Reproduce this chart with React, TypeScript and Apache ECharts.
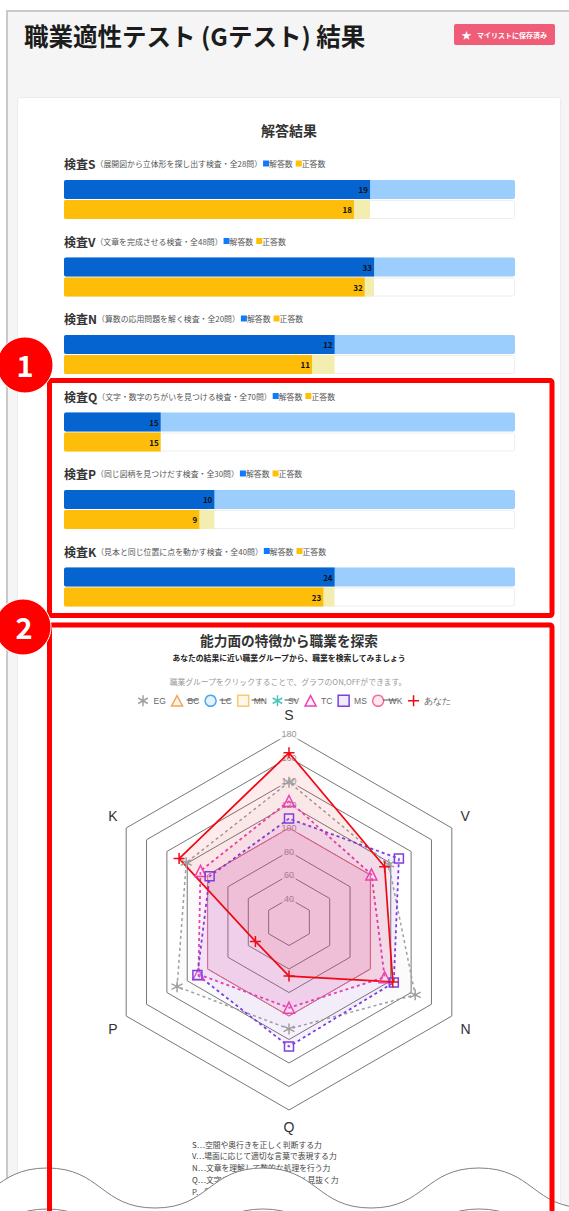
import React, { useEffect, useRef } from "react";
import * as echarts from "echarts";

const FONT = '"Noto Sans CJK JP", "Noto Sans", sans-serif';
const LATIN = '"Liberation Sans", Arial, sans-serif';

const testCodes = ["S", "V", "N", "Q", "P", "K"];
const testNotes = [
  "（展開図から立体形を探し出す検査・全28問）",
  "（文章を完成させる検査・全48問）",
  "（算数の応用問題を解く検査・全20問）",
  "（文字・数字のちがいを見つける検査・全70問）",
  "（同じ図柄を見つけだす検査・全30問）",
  "（見本と同じ位置に点を動かす検査・全40問）",
];
const totals = [28, 48, 20, 70, 30, 40];
const answered = [19, 33, 12, 15, 10, 24];
const correct = [18, 32, 11, 15, 9, 23];

// Values follow the order S, V, N, Q, P, K (clockwise from the top in the picture).
const radarAxes = ["S", "V", "N", "Q", "P", "K"];
const radarMin = 20;
const radarMax = 180;
const youValues = [164, 114, 122, 66, 53, 128];
const egValues = [139, 118, 144, 111, 130, 121];
const tcValues = [123, 101, 114, 93, 109, 107];
const msValues = [108, 128, 123, 126, 110, 98];
const baseValues = [100, 100, 100, 100, 100, 100];
const legendNames = ["EG", "BC", "LC", "MN", "SV", "TC", "MS", "WK", "あなた"];
const hiddenGroups = ["BC", "LC", "MN", "SV", "WK"];

const abilityNotes = [
  "S…空間や奥行きを正しく判断する力",
  "V…場面に応じて適切な言葉で表現する力",
  "N…文章を理解して数的な処理を行う力",
  "Q…文字や数字のちがいを正しく見抜く力",
  "P…図柄のちがいを素早く見抜く力",
  "K…手先を正確にコントロールする力",
];

// ECharts lays radar indicators out anti-clockwise
const radarOrder = [0, 5, 4, 3, 2, 1];
const ordered = <T,>(a: T[]) => radarOrder.map((i) => a[i]);

const STAR = "path://M0 -10L0 10M-8.66 -5L8.66 5M-8.66 5L8.66 -5";
const TRI = "path://M10 1L19.5 19L0.5 19Z";
const SQUARE = "path://M0 0H20V20H0Z";
const CIRCLE = "path://M10 0A10 10 0 1 1 9.99 0Z";
const PLUS = "path://M-10 0H10M0 -10V10";

const iconOf: Record<string, [string, string, string]> = {
  EG: [STAR, "#a0a0a0", "rgba(160,160,160,0.06)"],
  BC: [TRI, "#f2a65a", "rgba(242,166,90,0.15)"],
  LC: [CIRCLE, "#4aa8ea", "rgba(74,168,234,0.15)"],
  MN: [SQUARE, "#f9cb70", "rgba(249,203,112,0.15)"],
  SV: [STAR, "#4cc3ba", "rgba(76,195,186,0.2)"],
  TC: [TRI, "#ee3fb4", "rgba(238,63,180,0.08)"],
  MS: [SQUARE, "#7c3fe0", "rgba(124,63,224,0.1)"],
  WK: [CIRCLE, "#f2709a", "rgba(242,112,154,0.15)"],
  "あなた": [PLUS, "#f00a14", "rgba(240,10,20,0.12)"],
};

echarts.graphic.registerShape(
  "wave",
  echarts.graphic.extendPath(
    "M-61 40C-7 40 -7 0 47 0C101 0 101 40 155 40C209 40 209 0 263 0C317 0 317 40 371 40C425 40 425 0 479 0C533 0 533 40 587 40L640 40L640 120L-61 120Z",
    {}
  )
);

function buildOption() {
  const grids: any[] = [];
  const xAxes: any[] = [];
  const yAxes: any[] = [];
  const series: any[] = [];
  const graphics: any[] = [];
  const gridTops = testCodes.map((_, i) => 179.5 + i * 77.5);

  const text = (o: any) => ({ type: "text", z: 5, silent: true, ...o });

  graphics.push(
    { type: "rect", z: -10, shape: { x: 7, y: 11, width: 570, height: 1210 }, style: { fill: "#f5f5f5", stroke: "#c9c9c9", lineWidth: 2 } },
    { type: "rect", z: -9, shape: { x: 17.5, y: 97.5, width: 543, height: 1200, r: 2 }, style: { fill: "#ffffff", stroke: "#ececec", lineWidth: 1 } },
    text({ x: 24, y: 35, style: { text: "職業適性テスト (Gテスト) 結果", font: `700 24.5px ${FONT}`, fill: "#1c1c1c", verticalAlign: "middle" } }),
    { type: "rect", z: 4, shape: { x: 454, y: 24, width: 101, height: 21, r: 2 }, style: { fill: "#ef5d78" } },
    text({ x: 466.5, y: 34.5, style: { text: "★", font: `10px ${FONT}`, fill: "#fff", align: "center", verticalAlign: "middle" } }),
    text({ x: 477, y: 34.5, style: { text: "マイリストに保存済み", font: `700 7px ${FONT}`, fill: "#fff", verticalAlign: "middle" } }),
    text({ x: 289, y: 129.5, style: { text: "解答結果", font: `700 14px ${FONT}`, fill: "#333", align: "center", verticalAlign: "middle" } })
  );

  testCodes.forEach((code, i) => {
    grids.push({ left: 64, width: 451, top: gridTops[i], height: 40 });
    xAxes.push({ gridIndex: i, type: "value", min: 0, max: totals[i], show: false });
    yAxes.push({ gridIndex: i, type: "category", inverse: true, data: ["解答数", "正答数"], show: false });
    const common = { type: "bar", xAxisIndex: i, yAxisIndex: i, barWidth: 19, barGap: "-100%", silent: true };
    series.push({
      ...common,
      name: `検査${code}全問`,
      data: [
        { value: totals[i], itemStyle: { color: "#9bcdfd", borderRadius: 2 } },
        { value: totals[i], itemStyle: { color: "#ffffff", borderColor: "#eeeeee", borderWidth: 1, borderRadius: 2 } },
      ],
    });
    series.push({
      ...common,
      name: `検査${code}未正答`,
      data: [null, { value: answered[i], itemStyle: { color: "#f3eeb0" } }],
    });
    series.push({
      ...common,
      name: `検査${code}`,
      label: { show: true, position: "insideRight", distance: 2, color: "#111", fontFamily: FONT, fontWeight: 700, fontSize: 8 },
      data: [
        { value: answered[i], itemStyle: { color: "#0664d0", borderRadius: [2, 0, 0, 2] } },
        { value: correct[i], itemStyle: { color: "#fdbd08", borderRadius: [2, 0, 0, 2] } },
      ],
    });
    graphics.push(
      text({
        x: 64,
        y: gridTops[i] - 16,
        style: {
          text: `{h|検査${code}}{d|${testNotes[i]}}{s|}{b|}{l|解答数}{t|}{y|}{l|正答数}`,
          verticalAlign: "middle",
          rich: {
            h: { fontFamily: FONT, fontSize: 12, fontWeight: 700, fill: "#333" },
            d: { fontFamily: FONT, fontSize: 7.9, fill: "#555" },
            l: { fontFamily: FONT, fontSize: 7.9, fill: "#555" },
            s: { width: 1, height: 7 },
            t: { width: 3, height: 7 },
            b: { backgroundColor: "#0d7bff", width: 6, height: 6 },
            y: { backgroundColor: "#ffc107", width: 6, height: 6 },
          },
        },
      })
    );
  });

  graphics.push(
    text({ x: 289, y: 640, style: { text: "能力面の特徴から職業を探索", font: `700 13.7px ${FONT}`, fill: "#333", align: "center", verticalAlign: "middle" } }),
    text({ x: 289, y: 657, style: { text: "あなたの結果に近い職業グループから、職業を検索してみましょう", font: `700 7.8px ${FONT}`, fill: "#222", align: "center", verticalAlign: "middle" } }),
    text({ x: 288, y: 681, style: { text: "職業グループをクリックすることで、グラフのON,OFFができます。", font: `7.8px ${FONT}`, fill: "#999", align: "center", verticalAlign: "middle" } })
  );

  abilityNotes.forEach((t, i) => {
    graphics.push(
      text({ x: 192, y: 1144 + i * 11.9, z: 6, style: { text: t, font: `7.8px ${FONT}`, fill: "#444", verticalAlign: "middle" } })
    );
  });

  // strike-through over the switched-off legend groups
  const strikeSpan: Record<string, [number, number]> = { BC: [186.5, 12], LC: [219.5, 11], MN: [251.5, 13], SV: [284.5, 12], WK: [383, 14] };
  hiddenGroups.forEach((n) => {
    const [x, w] = strikeSpan[n];
    graphics.push({ type: "line", z: 20, silent: true, shape: { x1: x, y1: 700, x2: x + w, y2: 700 }, style: { stroke: "#555", lineWidth: 1 } });
  });

  graphics.push(
    { type: "wave", z: 40, x: 0, y: 1168, silent: true, style: { fill: "#ffffff", stroke: "#808080", lineWidth: 1 } },
    { type: "wave", z: 41, x: 0, y: 1209, silent: true, style: { fill: "#ffffff", stroke: "#808080", lineWidth: 1 } },
    { type: "rect", z: 50, silent: true, shape: { x: 49.5, y: 380.5, width: 502.5, height: 235, r: 2 }, style: { fill: "none", stroke: "#ff0000", lineWidth: 5 } },
    { type: "rect", z: 50, silent: true, shape: { x: 49.5, y: 625, width: 502.5, height: 700, r: 2 }, style: { fill: "none", stroke: "#ff0000", lineWidth: 5 } },
    { type: "circle", z: 51, silent: true, shape: { cx: 25, cy: 365, r: 28 }, style: { fill: "#ff0000", stroke: "#ffffff", lineWidth: 1 } },
    { type: "circle", z: 51, silent: true, shape: { cx: 23, cy: 627, r: 28 }, style: { fill: "#ff0000", stroke: "#ffffff", lineWidth: 1 } },
    text({ x: 25, y: 364, z: 52, style: { text: "1", font: `700 29px ${FONT}`, fill: "#fff", align: "center", verticalAlign: "middle" } }),
    text({ x: 24, y: 626, z: 52, style: { text: "2", font: `700 29px ${FONT}`, fill: "#fff", align: "center", verticalAlign: "middle" } })
  );

  const sizeOf = (icon: string) => (icon === SQUARE ? 9 : 11);
  const radarItem = (name: string, value: number[], dash: any, width: number) => {
    const [icon, stroke, fill] = iconOf[name];
    return {
      name,
      value: ordered(value),
      symbol: icon,
      symbolSize: sizeOf(icon),
      itemStyle: { color: icon === STAR || icon === PLUS ? stroke : "rgba(255,255,255,0.1)", borderColor: stroke, borderWidth: 1.5 },
      lineStyle: { color: stroke, width, type: dash },
      areaStyle: { color: fill },
    };
  };

  const hiddenItems = hiddenGroups.map((name) => ({
    name,
    value: [] as number[],
    symbol: "none",
    lineStyle: { opacity: 0 },
    areaStyle: { opacity: 0 },
    itemStyle: { opacity: 0 },
  }));

  series.push({
    type: "radar",
    radarIndex: 0,
    silent: true,
    data: [
      {
        name: "基準",
        value: baseValues,
        symbol: "none",
        lineStyle: { color: "#f2708a", width: 1 },
        areaStyle: { color: "rgba(238,100,160,0.2)" },
      },
      ...hiddenItems,
      radarItem("EG", egValues, [3, 3], 1.5),
      radarItem("TC", tcValues, [3, 3], 1.8),
      radarItem("MS", msValues, [3, 3], 1.8),
      radarItem("あなた", youValues, "solid", 1.7),
    ],
  });

  return {
    animation: false,
    textStyle: { fontFamily: FONT },
    grid: grids,
    xAxis: xAxes,
    yAxis: yAxes,
    legend: {
      left: 137.5,
      top: 694.5,
      padding: 0,
      orient: "horizontal",
      selectedMode: false,
      itemWidth: 11,
      itemHeight: 11,
      itemGap: 5,
      textStyle: { fontFamily: LATIN, fontSize: 8.5, color: "#666" },
      data: legendNames.map((name) => ({
        name,
        icon: iconOf[name][0],
        itemStyle: { color: iconOf[name][0] === STAR || iconOf[name][0] === PLUS ? iconOf[name][1] : iconOf[name][2], borderColor: iconOf[name][1], borderWidth: 1.5, opacity: 1 },
      })),
    },
    radar: {
      center: [289, 922],
      radius: 188,
      startAngle: 90,
      splitNumber: 8,
      shape: "polygon",
      nameGap: 10,
      axisName: {
        color: "#333",
        fontFamily: LATIN,
        fontSize: 14,
        formatter: (name: string) => `{${name}|${name}}`,
        rich: {
          S: { fontFamily: LATIN, fontSize: 14, color: "#333", padding: [0, 0, 2, 0] },
          V: { fontFamily: LATIN, fontSize: 14, color: "#333", padding: [0, 0, 15, 0] },
          K: { fontFamily: LATIN, fontSize: 14, color: "#333", padding: [0, 0, 15, 0] },
          N: { fontFamily: LATIN, fontSize: 14, color: "#333", padding: [15, 0, 0, 0] },
          P: { fontFamily: LATIN, fontSize: 14, color: "#333", padding: [15, 0, 0, 0] },
          Q: { fontFamily: LATIN, fontSize: 14, color: "#333" },
        },
      },
      splitArea: { show: false },
      axisLine: { show: false },
      axisTick: { show: false },
      splitLine: { lineStyle: { color: "#777", width: 1 } },
      indicator: ordered(radarAxes).map((name, i) => ({
        name,
        min: radarMin,
        max: radarMax,
        ...(i === 0
          ? {
              axisLabel: {
                show: true,
                margin: 0,
                align: "center",
                verticalAlign: "middle",
                color: "#999",
                fontFamily: LATIN,
                fontSize: 9,
                backgroundColor: "rgba(255,255,255,0.75)",
                padding: [1, 2],
                formatter: (v: number) => (v === radarMin ? "" : String(v)),
              },
            }
          : {}),
      })),
    },
    series,
    graphic: { elements: graphics },
  };
}

export default function App() {
  const ref = useRef<HTMLDivElement>(null);
  useEffect(() => {
    const chart = echarts.init(ref.current!, undefined, { renderer: "svg" });
    chart.setOption(buildOption() as any);
    return () => chart.dispose();
  }, []);
  return <div ref={ref} style={{ position: "absolute", left: 0, top: 0, width: 569, height: 1211, background: "#fff", overflow: "hidden" }} />;
}
